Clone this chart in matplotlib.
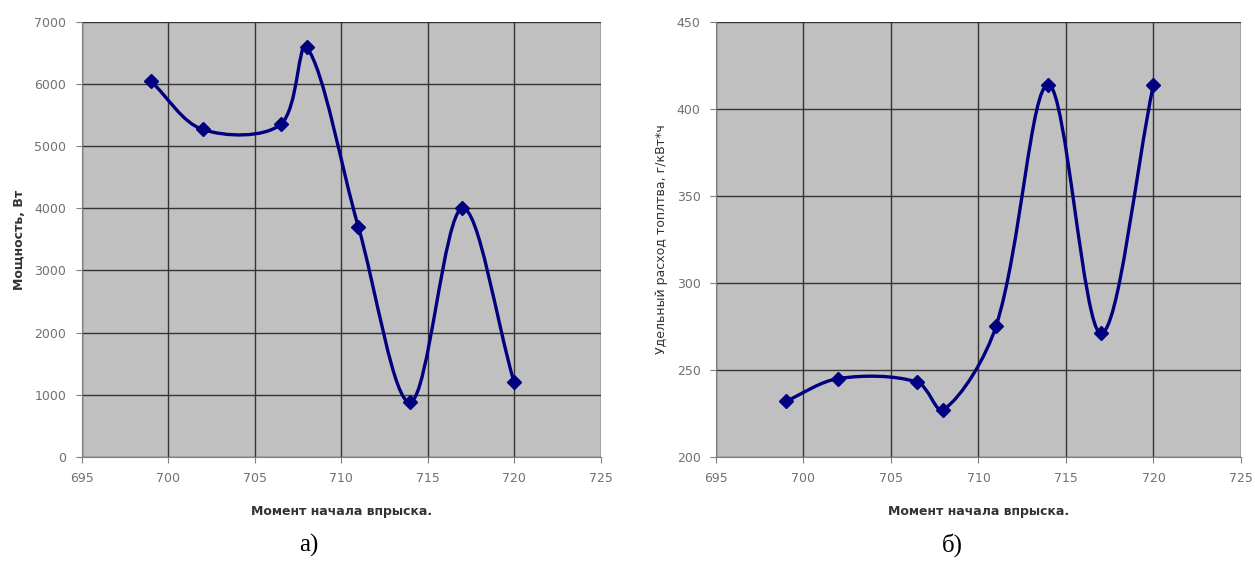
import numpy as np
import matplotlib
matplotlib.use("Agg")
from matplotlib import pyplot as plt
from matplotlib.path import Path
from matplotlib.patches import PathPatch

# момент начала впрыска
x_vals = [699, 702, 706.5, 708, 711, 714, 717, 720]
# мощность, Вт
power = [6050, 5270, 5350, 6600, 3700, 880, 4000, 1200]
# удельный расход топлива, г/кВт*ч
fuel = [232, 245, 243, 227, 275, 414, 271, 414]

x_ticks = [695, 700, 705, 710, 715, 720, 725]
navy = "#000080"


def smooth_path(ax, x, y):
    # "сглаженная линия" как в Excel: кубические Безье, касательные считаются в пикселях
    w, h = ax.bbox.width, ax.bbox.height
    x0, x1 = ax.get_xlim()
    y0, y1 = ax.get_ylim()
    sx, sy = w / (x1 - x0), h / (y1 - y0)
    P = np.column_stack([np.asarray(x, float) * sx, np.asarray(y, float) * sy])
    n = len(P)
    d = np.hypot(*np.diff(P, axis=0).T)
    verts = [P[0]]
    codes = [Path.MOVETO]
    for i in range(n - 1):
        if i == 0:
            c1 = P[i] + (P[i + 1] - P[i]) / 3
        else:
            T = P[i + 1] - P[i - 1]
            c1 = P[i] + T * d[i] / (d[i - 1] + d[i]) / 3
        if i + 1 == n - 1:
            c2 = P[i + 1] - (P[i + 1] - P[i]) / 3
        else:
            T = P[i + 2] - P[i]
            c2 = P[i + 1] - T * d[i] / (d[i] + d[i + 1]) / 3
        verts += [c1, c2, P[i + 1]]
        codes += [Path.CURVE4] * 3
    verts = np.array(verts) / [sx, sy]
    return Path(verts, codes)


def draw(ax, y, ylim, ystep, ylabel, ybold):
    ax.set_facecolor("#c0c0c0")
    ax.set_xlim(695, 725)
    ax.set_ylim(*ylim)
    ax.add_patch(PathPatch(smooth_path(ax, x_vals, y), fc="none", ec=navy, lw=2.4, zorder=3))
    ax.plot(x_vals, y, ls="none", marker="D", ms=7, color=navy, zorder=4)
    ax.set_xticks(x_ticks)
    ax.set_yticks(np.arange(ylim[0], ylim[1] + 1, ystep))
    ax.grid(True, color="#333333", lw=1.0)
    ax.set_axisbelow(True)
    for s in ax.spines.values():
        s.set_color("#808080")
    ax.spines["top"].set_visible(False)
    ax.spines["right"].set_visible(False)
    ax.tick_params(colors="#808080", labelcolor="#707070", labelsize=9, length=4, pad=7)
    ax.set_xlabel("Момент начала впрыска.", fontsize=9, fontweight="bold", color="#333333", labelpad=14)
    ax.set_ylabel(ylabel, fontsize=9, fontweight="bold" if ybold else "normal",
                  color="#333333", labelpad=6)


plt.rcParams["font.family"] = ["DejaVu Sans"]
fig = plt.figure(figsize=(12.55, 5.64), dpi=100)
ax1 = fig.add_axes([0.065, 0.19, 0.4136, 0.771])
ax2 = fig.add_axes([0.5705, 0.19, 0.4183, 0.771])

draw(ax1, power, (0, 7000), 1000, "Мощность, Вт", True)
draw(ax2, fuel, (200, 450), 50, "Удельный расход топлтва, г/кВт*ч", False)

fig.text(0.246, 0.022, "а)", fontsize=18, family="Liberation Serif", ha="center", va="baseline")
fig.text(0.759, 0.022, "б)", fontsize=18, family="Liberation Serif", ha="center", va="baseline")

fig.savefig("out.png", dpi=100)
